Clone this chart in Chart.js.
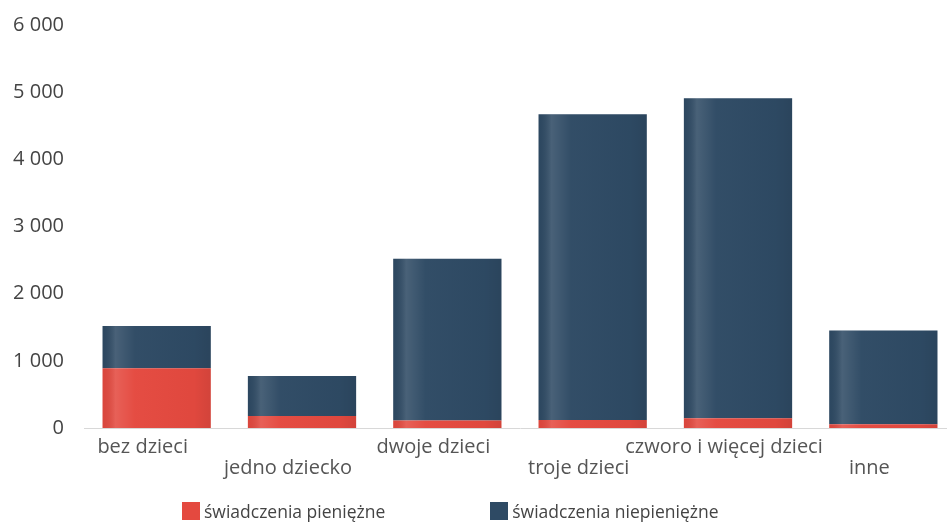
<!DOCTYPE html>
<html>
<head>
<meta charset="utf-8">
<script src="https://cdn.jsdelivr.net/npm/chart.js@4.4.0/dist/chart.umd.min.js"></script>
<style>
  html, body { margin: 0; padding: 0; background: #fff; overflow: hidden; }
  #wrap { position: relative; width: 962px; height: 526px; }
  #legend { position: absolute; left: 182px; top: 500px; display: flex; font-family: "Open Sans", sans-serif; font-size: 17.5px; color: #444; line-height: 22px; }
  #legend .item { display: flex; align-items: center; margin-right: 105px; }
  #legend .box { width: 18px; height: 18px; margin-right: 4px; }
</style>
</head>
<body>
<div id="wrap">
  <canvas id="chart"></canvas>
  <div id="legend"></div>
</div>
<script>
// categories and values
const categories = ['bez dzieci', 'jedno dziecko', 'dwoje dzieci', 'troje dzieci', 'czworo i więcej dzieci', 'inne'];
const cashBenefits = [890, 180, 110, 120, 145, 55];
const nonCashBenefits = [630, 595, 2410, 4550, 4765, 1395];
const seriesNames = ['świadczenia pieniężne', 'świadczenia niepieniężne'];
const seriesColors = ['#e4493f', '#2e4a64'];
const yTicks = [0, 1000, 2000, 3000, 4000, 5000, 6000];

// alternate the labels between two rows
const labels = categories.map((c, i) => i % 2 === 0 ? [c] : ['', c]);

// light vertical sheen on each bar
const sheen = {
    id: 'sheen',
    afterDatasetsDraw: (chart) => {
        const ctx = chart.ctx;
        chart.data.datasets.forEach((ds, di) => {
            chart.getDatasetMeta(di).data.forEach(bar => {
                const left = bar.x - bar.width / 2;
                const top = Math.min(bar.y, bar.base);
                const h = Math.abs(bar.base - bar.y);
                const g = ctx.createLinearGradient(left, 0, left + bar.width, 0);
                g.addColorStop(0, 'rgba(0,0,0,0.04)');
                g.addColorStop(0.12, 'rgba(255,255,255,0.13)');
                g.addColorStop(0.3, 'rgba(255,255,255,0.02)');
                g.addColorStop(0.85, 'rgba(0,0,0,0.02)');
                g.addColorStop(1, 'rgba(0,0,0,0.08)');
                ctx.save();
                ctx.fillStyle = g;
                ctx.fillRect(left, top, bar.width, h);
                ctx.restore();
            });
        });
    }
};

Chart.defaults.font.family = '"Open Sans", sans-serif';
Chart.defaults.color = '#555';

const ctx = document.getElementById('chart').getContext('2d');
window.benefitsChart = new Chart(ctx, {
    type: 'bar',
    data: {
        labels: labels,
        datasets: [
            {
                label: seriesNames[0],
                data: cashBenefits,
                backgroundColor: seriesColors[0],
                categoryPercentage: 0.745,
                barPercentage: 1
            },
            {
                label: seriesNames[1],
                data: nonCashBenefits,
                backgroundColor: seriesColors[1],
                categoryPercentage: 0.745,
                barPercentage: 1
            }
        ]
    },
    options: {
        responsive: true,
        maintainAspectRatio: false,
        animation: false,
        layout: {
            padding: { top: 25, left: 13, right: 6, bottom: 38 }
        },
        scales: {
            x: {
                stacked: true,
                grid: { display: false, drawTicks: false },
                border: { color: '#d8d8d8' },
                afterFit: (axis) => {
                    // the first label must not push the plot to the right
                    axis.paddingLeft = 0;
                    axis.paddingRight = 0;
                },
                ticks: {
                    color: '#555',
                    labelOffset: -14,
                    maxRotation: 0,
                    autoSkip: false,
                    padding: 9,
                    font: { size: 20, lineHeight: 1.05 }
                }
            },
            y: {
                stacked: true,
                min: 0,
                max: 6000,
                grid: { display: false, drawTicks: false },
                border: { display: false },
                afterBuildTicks: (axis) => {
                    axis.ticks = yTicks.map(v => ({ value: v }));
                },
                afterFit: (axis) => {
                    axis.width = 71;
                    axis.paddingTop = 0;
                    axis.paddingBottom = 0;
                },
                ticks: {
                    color: '#444',
                    padding: 20,
                    font: { size: 20 },
                    callback: (v) => String(v).replace(/\B(?=(\d{3})+(?!\d))/g, ' ')
                }
            }
        },
        plugins: {
            legend: { display: false },
            tooltip: { enabled: false }
        }
    },
    plugins: [sheen]
});

// legend below the chart
const legendEl = document.getElementById('legend');
seriesNames.forEach((name, i) => {
    const item = document.createElement('div');
    item.className = 'item';
    item.innerHTML = `<span class="box" style="background:${seriesColors[i]}"></span><span>${name}</span>`;
    legendEl.appendChild(item);
});
</script>
</body>
</html>
